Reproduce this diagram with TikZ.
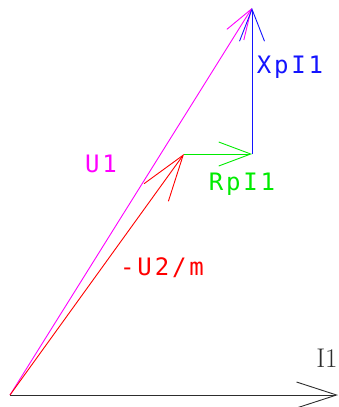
\documentclass[tikz,border=0pt]{standalone}
\usepackage{fontspec}
\usepackage{xcolor}
\usepackage{tikz}
\usetikzlibrary{arrows.meta, positioning}
\newfontfamily\vecfont[LetterSpace=12]{DejaVu Sans Mono}
\definecolor{VecMag}{RGB}{255,0,255}
\definecolor{VecRed}{RGB}{255,0,0}
\definecolor{VecGreen}{RGB}{0,235,0}
\definecolor{VecBlue}{RGB}{20,20,255}
\definecolor{VecAxis}{RGB}{45,45,45}

\begin{document}
\begin{tikzpicture}[x=1pt, y=-1pt,
          vec/.style={line width=0.9pt},
          lbl/.style={inner sep=0pt, font=\vecfont\fontsize{24}{26}\selectfont}
        ]
        \useasboundingbox (0,0) rectangle (339,407);
        \coordinate (o)    at (10,395);
        \coordinate (iend) at (338,395);
        \coordinate (u2)   at (184,154);
        \coordinate (rp)   at (252,154);
        \coordinate (u1)   at (252,8);

        \draw[vec, VecMag, -{Straight Barb[length=30pt, width=20pt]}] (o)--(u1);
        \draw[vec, VecAxis, -{Straight Barb[length=40pt, width=26pt]}] (o)--(iend);
        \draw[vec, VecRed, -{Straight Barb[length=46pt, width=30pt]}] (o)--(u2);
        \draw[vec, VecGreen, -{Straight Barb[length=32pt, width=24pt]}] (u2)--(rp);
        \draw[vec, VecBlue, -{Straight Barb[length=32pt, width=25pt]}] (rp)--(u1);

        \node[lbl, text=VecMag]   (lu1) at (101,164) {U1};
        \node[lbl, text=VecRed]   (lu2) at (162,268) {-U2/m};
        \node[lbl, text=VecGreen] (lrp) at (242,184) {RpI1};
        \node[lbl, text=VecBlue]  (lxp) at (290,67)  {XpI1};
        \node[inner sep=0pt, text=VecAxis, font=\fontsize{27}{29}\selectfont]
              (li1) at (327,358) {I1};
      \end{tikzpicture}
\end{document}
